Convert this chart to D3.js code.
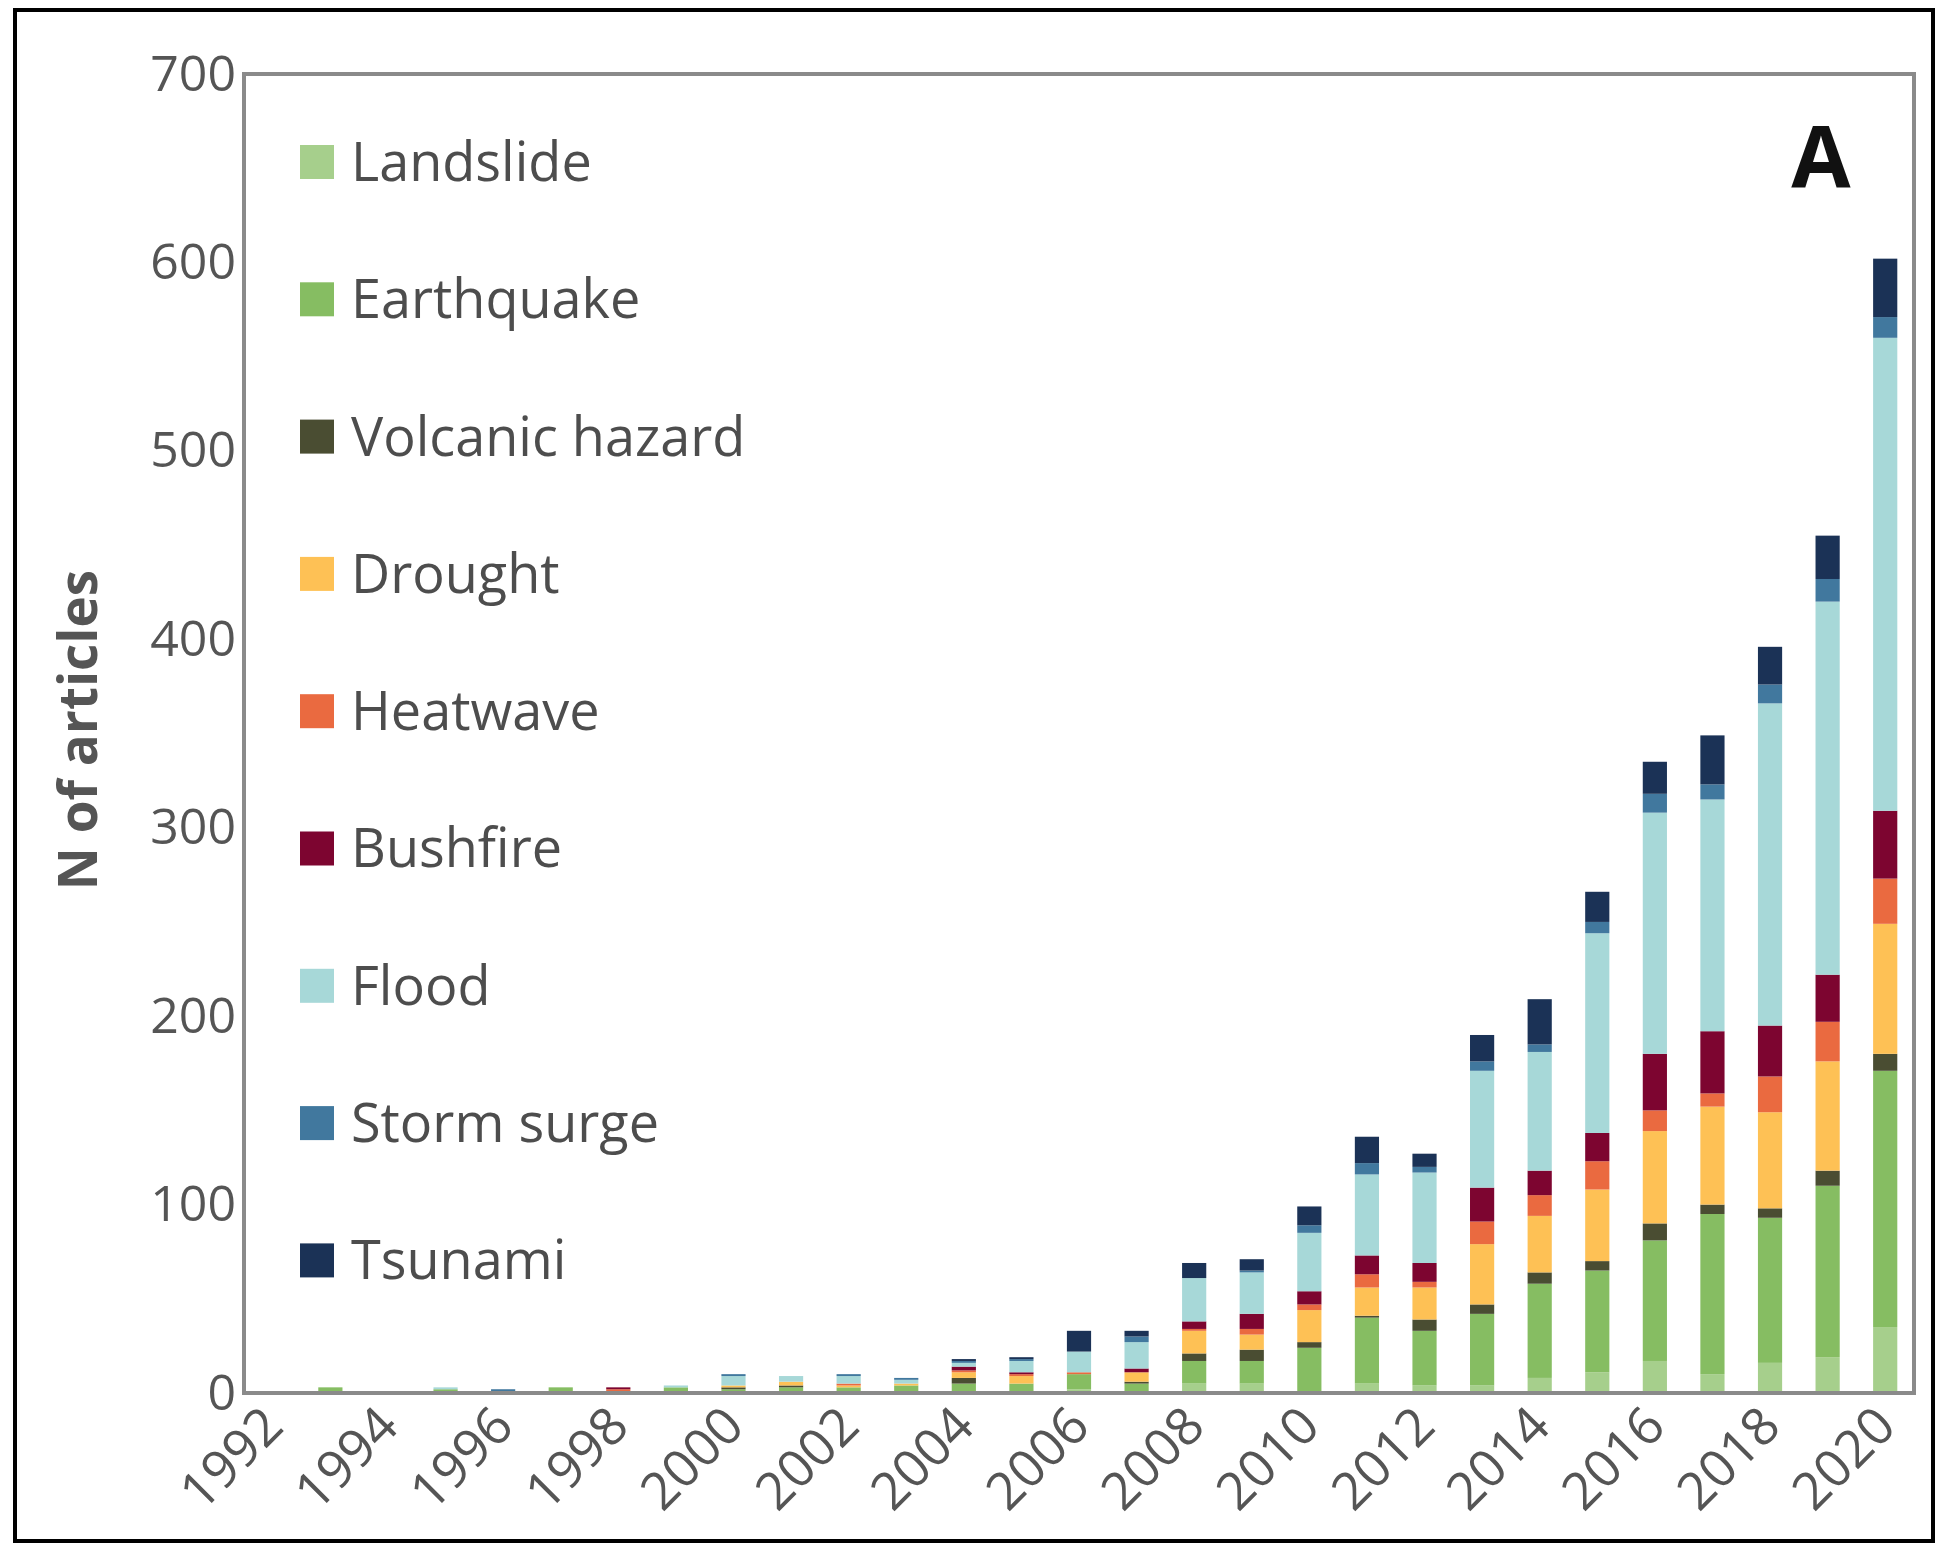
<!DOCTYPE html>
<html>
<head>
<meta charset="utf-8">
<script src="https://cdn.jsdelivr.net/npm/d3@7"></script>
<style>
  body { margin: 0; background: #fff; }
  text { font-family: "Open Sans", sans-serif; }
</style>
</head>
<body>
<div id="container"></div>
<script>
// years on the x axis
const years = d3.range(1992, 2021);
const yTicks = [0, 100, 200, 300, 400, 500, 600, 700];
const xTickYears = d3.range(1992, 2021, 2);

// articles per year, one array per hazard (1992..2020)
const landslide  = [0,0,0,0,0,0,0,0, 0,0,0,0,0,0,2,0, 5,5,0,5, 4,4,8,11, 17,10,16,19,35];
const earthquake = [1,3,0,2,0,3,0,3, 2,3,3,4,5,5,8,5, 12,12,24,35, 29,38,50,54, 64,85,77,91,136];
const volcanic   = [0,0,0,0,0,0,0,0, 1,1,0,0,3,0,0,1, 4,6,3,1, 6,5,6,5, 9,5,5,8,9];
const drought    = [0,0,0,0,1,0,1,0, 1,2,1,1,3,4,0,5, 12,8,17,15, 17,32,30,38, 49,52,51,58,69];
const heatwave   = [0,0,0,0,0,0,1,0, 0,0,1,0,1,1,1,0, 1,3,3,7, 3,12,11,15, 11,7,19,21,24];
const bushfire   = [0,0,0,0,0,0,1,0, 0,0,0,0,2,1,0,2, 4,8,7,10, 10,18,13,15, 30,33,27,25,36];
const flood      = [0,0,0,1,0,0,0,1, 5,3,4,2,2,6,11,14, 23,22,31,43, 48,62,63,106, 128,123,171,198,251];
const stormSurge = [0,0,0,0,1,0,0,0, 1,0,1,1,1,1,0,3, 0,1,4,6, 3,5,4,6, 10,8,10,12,11];
const tsunami    = [0,0,0,0,0,0,0,0, 0,0,0,0,1,1,11,3, 8,6,10,14, 7,14,24,16, 17,26,20,23,31];

const seriesNames = ["Landslide", "Earthquake", "Volcanic hazard", "Drought", "Heatwave",
                     "Bushfire", "Flood", "Storm surge", "Tsunami"];
const seriesValues = [landslide, earthquake, volcanic, drought, heatwave,
                      bushfire, flood, stormSurge, tsunami];
const seriesColors = ["#a6cf8c", "#86bd62", "#4a4d32", "#fec155", "#ea6a40",
                      "#7d0530", "#a7d8d8", "#41789e", "#1b3256"];

const W = 1936, H = 1545;
const plotLeft = 244, plotRight = 1914, plotTop = 74, plotBottom = 1393;

// rows for the stack
const table = years.map((yr, i) => {
  const row = { year: yr };
  seriesNames.forEach((n, j) => { row[n] = seriesValues[j][i]; });
  return row;
});
const stacked = d3.stack().keys(seriesNames)(table);

const svg = d3.select("#container").append("svg")
  .attr("width", W)
  .attr("height", H);

// outer frame
svg.append("rect")
  .attr("x", 15).attr("y", 10)
  .attr("width", 1918).attr("height", 1531)
  .attr("fill", "none")
  .attr("stroke", "#000")
  .attr("stroke-width", 4);

const xScale = d3.scaleBand()
  .domain(years)
  .range([plotLeft, plotRight])
  .paddingInner(0.58)
  .paddingOuter(0.29);

const yScale = d3.scaleLinear()
  .domain([0, 700])
  .range([plotBottom, plotTop]);

// bars
svg.append("g")
  .selectAll("g")
  .data(stacked)
  .enter()
  .append("g")
  .attr("fill", (d, i) => seriesColors[i])
  .selectAll("rect")
  .data(d => d)
  .enter()
  .append("rect")
  .attr("x", d => xScale(d.data.year))
  .attr("y", d => yScale(d[1]))
  .attr("width", xScale.bandwidth())
  .attr("height", d => yScale(d[0]) - yScale(d[1]));

// plot frame
svg.append("rect")
  .attr("x", plotLeft).attr("y", plotTop)
  .attr("width", plotRight - plotLeft).attr("height", plotBottom - plotTop)
  .attr("fill", "none")
  .attr("stroke", "#8a8a8a")
  .attr("stroke-width", 4);

// y axis
const yAxis = svg.append("g")
  .attr("transform", `translate(${plotLeft - 8},0)`)
  .call(d3.axisLeft(yScale).tickValues(yTicks).tickSize(0).tickPadding(0));
yAxis.select(".domain").remove();
yAxis.selectAll("text")
  .attr("fill", "#555")
  .style("font-size", "50px")
  .style("font-family", "'Open Sans', sans-serif");

// x axis, rotated labels every second year
svg.append("g")
  .selectAll("text")
  .data(xTickYears)
  .enter()
  .append("text")
  .attr("transform", d => `translate(${xScale(d) + xScale.bandwidth() / 2 + 13},${plotBottom + 36}) rotate(-45)`)
  .attr("text-anchor", "end")
  .attr("fill", "#555")
  .style("font-size", "52px")
  .text(d => d);

// axis title
svg.append("text")
  .attr("transform", "translate(97,730) rotate(-90)")
  .attr("text-anchor", "middle")
  .attr("fill", "#555")
  .style("font-size", "53px")
  .style("font-weight", "bold")
  .text("N of articles");

// panel letter
svg.append("text")
  .attr("x", 1821).attr("y", 188)
  .attr("text-anchor", "middle")
  .attr("fill", "#111")
  .style("font-size", "86px")
  .style("font-weight", "bold")
  .text("A");

// legend
const legend = svg.append("g")
  .selectAll("g")
  .data(seriesNames)
  .enter()
  .append("g")
  .attr("transform", (d, i) => `translate(300,${162 + i * 137.3})`);

legend.append("rect")
  .attr("x", 0).attr("y", -17)
  .attr("width", 34).attr("height", 34)
  .attr("fill", (d, i) => seriesColors[i]);

legend.append("text")
  .attr("x", 51).attr("y", 0)
  .attr("dy", "0.35em")
  .attr("fill", "#4d4d4d")
  .style("font-size", "54px")
  .text(d => d);
</script>
</body>
</html>
